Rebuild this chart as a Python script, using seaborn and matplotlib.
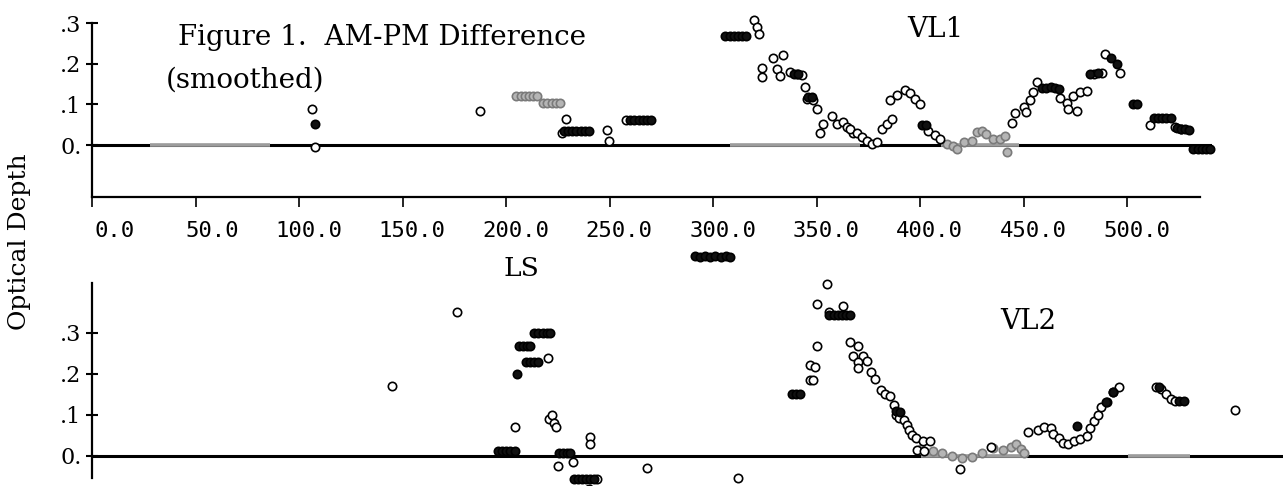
import matplotlib
matplotlib.use("Agg")
import matplotlib.pyplot as plt
import seaborn as sns
import pandas as pd
from matplotlib.transforms import ScaledTranslation

# ---------------- data (LS in degrees, optical depth difference) ----------------
# VL1 (top panel)
vl1_open_ls = [106.5, 107.5, 187.5, 227, 229, 249, 249.5, 258,
               320, 321, 322, 323.5, 323.5, 329, 333.8, 331, 332.4, 337.2, 340.6, 343,
               344.4, 345.4, 348.3, 350.2, 353, 357.4, 359.9, 362.8, 364.7, 367.6, 351.7,
               366, 369.6, 372, 374.4, 376.8, 379, 381.6, 384, 386.5,
               385.5, 389, 392.8, 395, 397.6, 400, 404, 407, 409.6,
               444.5, 446, 450, 451, 453, 454.6, 456.5,
               467.6, 471, 474, 477, 480.7, 471.5, 476,
               484, 488, 489.5, 496.6, 511, 523, 526]
vl1_open_val = [0.088, -0.005, 0.083, 0.03, 0.064, 0.038, 0.011, 0.062,
                0.307, 0.29, 0.273, 0.19, 0.167, 0.213, 0.222, 0.188, 0.171, 0.179, 0.175, 0.172,
                0.142, 0.114, 0.11, 0.089, 0.052, 0.073, 0.052, 0.056, 0.044, 0.031, 0.031,
                0.041, 0.029, 0.021, 0.01, 0.004, 0.009, 0.04, 0.052, 0.064,
                0.11, 0.123, 0.135, 0.127, 0.114, 0.102, 0.036, 0.024, 0.016,
                0.055, 0.08, 0.095, 0.082, 0.11, 0.13, 0.155,
                0.115, 0.103, 0.122, 0.13, 0.134, 0.09, 0.085,
                0.175, 0.178, 0.225, 0.177, 0.049, 0.045, 0.04]
vl1_dark_ls = [107.5, 228, 230, 232, 234, 236, 238, 240,
               260, 262, 264, 266, 268, 270,
               306, 308, 310, 312, 314, 316,
               339, 341, 346, 348, 401, 403,
               459, 461, 463, 465, 467,
               482, 486, 492, 495,
               503, 505, 513, 515, 517, 519, 521, 524, 526, 528, 530,
               532, 534, 536, 538, 540]
vl1_dark_val = [0.053, 0.034, 0.034, 0.034, 0.034, 0.034, 0.034, 0.034,
                0.062, 0.062, 0.062, 0.062, 0.062, 0.062,
                0.269, 0.269, 0.269, 0.269, 0.269, 0.269,
                0.175, 0.175, 0.118, 0.118, 0.049, 0.049,
                0.14, 0.14, 0.142, 0.14, 0.138,
                0.175, 0.177, 0.215, 0.2,
                0.1, 0.1, 0.066, 0.066, 0.066, 0.066, 0.066, 0.042, 0.04, 0.039, 0.038,
                -0.01, -0.01, -0.01, -0.01, -0.01]
vl1_grey_ls = [205, 207, 209, 211, 213, 215, 218, 220, 222, 224, 226,
               413, 416, 418, 421, 425, 427.5, 430, 432, 435, 438.6, 441, 442]
vl1_grey_val = [0.121, 0.121, 0.121, 0.121, 0.121, 0.121, 0.103, 0.103, 0.103, 0.103, 0.103,
                0.003, -0.002, -0.009, 0.008, 0.01, 0.032, 0.034, 0.027, 0.015, 0.015, 0.022, -0.017]

# VL2 (bottom panel)
vl2_open_ls = [145, 176, 204, 220, 220.5, 222, 223, 224, 225, 232, 240.5, 240.5, 240, 244, 268, 312,
               346.6, 348, 346.6, 349, 350, 350, 355, 362.8, 356,
               366, 370, 367.6, 372, 374, 369.6, 370,
               376, 378, 380.7, 383, 385.5, 387, 388, 389.4, 392, 393.7, 394.2, 396, 398, 401,
               404.8, 398.5, 401.5, 419.3, 434,
               451.7, 456.5, 459.4, 462.8, 464, 466.7, 468.6, 471, 474, 477, 480.5, 482,
               483.6, 485.5, 487, 490, 492.7, 495.6,
               513.5, 516, 518.4, 520.8, 523, 552]
vl2_open_val = [0.17, 0.351, 0.07, 0.24, 0.09, 0.1, 0.08, 0.07, -0.025, -0.015, 0.045, 0.03, -0.08, -0.057, -0.03, -0.055,
                0.185, 0.185, 0.222, 0.217, 0.268, 0.37, 0.42, 0.366, 0.35,
                0.279, 0.267, 0.245, 0.245, 0.232, 0.229, 0.215,
                0.205, 0.188, 0.16, 0.152, 0.145, 0.123, 0.099, 0.092, 0.087, 0.076, 0.064, 0.051, 0.044, 0.037,
                0.036, 0.015, 0.012, -0.033, 0.022,
                0.058, 0.062, 0.07, 0.069, 0.054, 0.044, 0.032, 0.03, 0.037, 0.041, 0.048, 0.067,
                0.084, 0.101, 0.12, 0.132, 0.156, 0.168,
                0.169, 0.164, 0.152, 0.14, 0.133, 0.111]
vl2_dark_ls = [196, 198, 200, 202, 204, 205,
               206, 208, 210, 211.5, 209.5, 211.5, 213.5, 215.5,
               213.5, 215.5, 217.5, 219.5, 221,
               225.5, 227.5, 229.5, 231, 232.5, 234.5, 236.5, 238.5, 240.5, 242.5,
               291, 293.5, 296, 298.5, 301, 303.5, 306, 308,
               338, 340, 342, 356, 358, 360, 362, 364, 366,
               388, 390, 475.4, 489.5, 493, 515, 525, 527]
vl2_dark_val = [0.012, 0.012, 0.012, 0.012, 0.012, 0.2,
                0.268, 0.268, 0.268, 0.268, 0.23, 0.23, 0.23, 0.23,
                0.30, 0.30, 0.30, 0.30, 0.30,
                0.008, 0.008, 0.008, 0.008, -0.057, -0.057, -0.057, -0.057, -0.057, -0.057,
                0.487, 0.485, 0.488, 0.485, 0.487, 0.485, 0.487, 0.486,
                0.151, 0.151, 0.151, 0.345, 0.345, 0.345, 0.345, 0.345, 0.345,
                0.11, 0.108, 0.073, 0.132, 0.157, 0.168, 0.135, 0.135]
vl2_grey_ls = [400, 405.8, 410.6, 415, 420, 425, 429.5, 435, 439.6, 443.5, 446, 448.3, 449.8]
vl2_grey_val = [0.018, 0.012, 0.008, -0.001, -0.004, -0.002, 0.007, 0.019, 0.014, 0.021, 0.03, 0.018, 0.008]

# grey (faded) stretches of the zero reference line
vl1_zero_grey = [(28, 86), (308, 371), (410, 448)]
vl2_zero_grey = [(400, 450), (500, 530)]

x_ticks = [0, 50, 100, 150, 200, 250, 300, 350, 400, 450, 500]
x_tick_labels = ["0.0", "50.0", "100.0", "150.0", "200.0", "250.0",
                 "300.0", "350.0", "400.0", "450.0", "500.0"]
y_ticks = [0.0, 0.1, 0.2, 0.3]
y_tick_labels = ["0.", ".1", ".2", ".3"]

# ---------------- figure ----------------
sns.set_style("white")
plt.rcParams["font.family"] = ["DejaVu Serif", "DejaVu Sans"]
for key in ["text.color", "axes.labelcolor", "xtick.color", "ytick.color", "axes.edgecolor"]:
    plt.rcParams[key] = "black"

W, H = 1287, 486
fig = plt.figure(figsize=(W / 100, H / 100), dpi=100)


def px_axes(x0, y_top, x1, y_bot):
    return fig.add_axes([x0 / W, 1 - y_bot / H, (x1 - x0) / W, (y_bot - y_top) / H])


ax1 = px_axes(92, 23, 1212, 197)
ax2 = px_axes(92, 283, 1283, 478)
ax1.set_xlim(0, 541)
ax1.set_ylim(-0.127, 0.30)
ax2.set_xlim(0, 575)
ax2.set_ylim(-0.054, 0.422)

styles = {
    "open": dict(color="white", edgecolor="black"),
    "dark": dict(color="#111111", edgecolor="black"),
    "grey": dict(color="#b5b5b5", edgecolor="#7a7a7a"),
}


def panel_df(open_ls, open_v, dark_ls, dark_v, grey_ls, grey_v):
    return pd.DataFrame({
        "LS": open_ls + dark_ls + grey_ls,
        "tau": open_v + dark_v + grey_v,
        "kind": ["open"] * len(open_ls) + ["dark"] * len(dark_ls) + ["grey"] * len(grey_ls),
    })


df1 = panel_df(vl1_open_ls, vl1_open_val, vl1_dark_ls, vl1_dark_val, vl1_grey_ls, vl1_grey_val)
df2 = panel_df(vl2_open_ls, vl2_open_val, vl2_dark_ls, vl2_dark_val, vl2_grey_ls, vl2_grey_val)

for ax, df, zg in [(ax1, df1, vl1_zero_grey), (ax2, df2, vl2_zero_grey)]:
    ax.axhline(0, color="black", lw=2.2, zorder=1)
    for a, b in zg:
        ax.hlines(0, a, b, color="#9c9c9c", lw=2.6, zorder=1.5)
    for kind in ["grey", "open", "dark"]:
        sub = df[df["kind"] == kind]
        sns.scatterplot(data=sub, x="LS", y="tau", ax=ax, s=36, linewidth=1.2,
                        clip_on=False, zorder=3, legend=False, **styles[kind])
    ax.set_xlabel("")
    ax.set_ylabel("")
    for side in ["top", "right"]:
        ax.spines[side].set_visible(False)
    ax.spines["left"].set_linewidth(1.6)
    ax.spines["left"].set_color("black")
    ax.set_yticks(y_ticks)
    ax.set_yticklabels(y_tick_labels, fontsize=16)
    ax.tick_params(axis="y", direction="inout", length=9, width=1.5, pad=3, left=True)

# top panel x axis
ax1.spines["bottom"].set_linewidth(1.6)
ax1.spines["bottom"].set_color("black")
ax1.spines["bottom"].set_bounds(0, 535)
ax1.set_xticks(x_ticks)
ax1.set_xticklabels(x_tick_labels, fontsize=16, family="DejaVu Sans Mono")
ax1.tick_params(axis="x", direction="out", length=7, width=1.2, pad=10, bottom=True)
offset = ScaledTranslation(0.43, 0, fig.dpi_scale_trans)
for lab in ax1.get_xticklabels():
    lab.set_horizontalalignment("right")
    lab.set_transform(lab.get_transform() + offset)

# bottom panel: no x axis visible
ax2.spines["bottom"].set_visible(False)
ax2.set_xticks([])

# texts
def ftext(x, y, s, **kw):
    fig.text(x / W, 1 - y / H, s, color="black", **kw)

ftext(178, 45, "Figure 1.  AM-PM Difference", fontsize=20, va="baseline", ha="left")
ftext(166, 88, "(smoothed)", fontsize=20, va="baseline", ha="left")
ftext(935, 37, "VL1", fontsize=20, va="baseline", ha="center")
ftext(1028, 329, "VL2", fontsize=20, va="baseline", ha="center")
ftext(521, 276, "LS", fontsize=19, va="baseline", ha="center")
ftext(20, 242, "Optical Depth", fontsize=18, rotation=90, va="center", ha="center")

fig.savefig("out.png", dpi=100, facecolor="white")
